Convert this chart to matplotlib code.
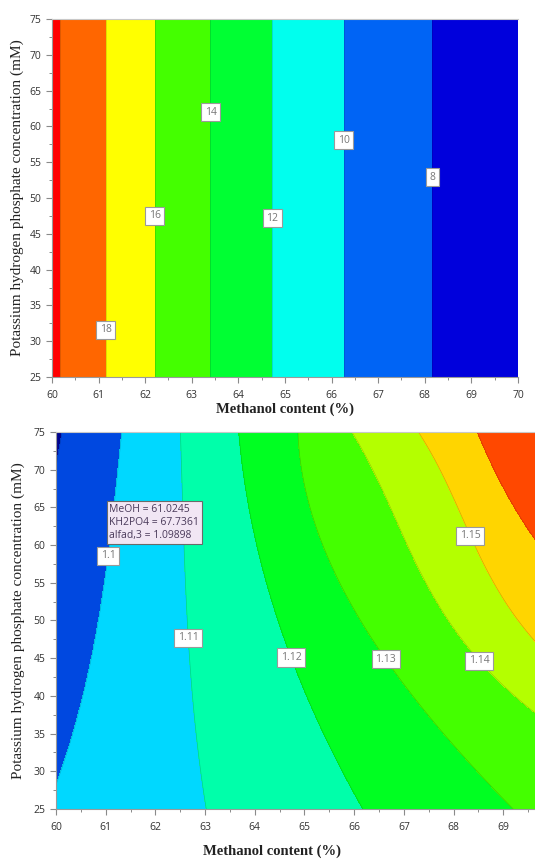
import numpy as np
import matplotlib
matplotlib.use("Agg")
import matplotlib.pyplot as plt
from matplotlib.colors import ListedColormap
from matplotlib.ticker import MultipleLocator

# --- data -------------------------------------------------------------------
# top panel: response depends on methanol only; x where each level line sits
top_x = [60.0, 60.17, 61.15, 62.2, 63.4, 64.73, 66.26, 68.16, 70.0]
top_val = [20.35, 20, 18, 16, 14, 12, 10, 8, 6.4]
top_levels = [6, 8, 10, 12, 14, 16, 18, 20, 22]
top_colors = ["#0000dc", "#0064f5", "#00ffee", "#00ff33",
              "#44ff00", "#ffff00", "#ff6600", "#ff0000"]
top_label_levels = [8, 10, 12, 14, 16, 18]
top_label_y = [52.9, 58.1, 47.2, 62.0, 47.5, 31.6]

# bottom panel: x position of each alpha level line at several KH2PO4 rows
kh_rows = [25, 35, 45, 55, 65, 75]
alpha_levels = [1.08, 1.09, 1.10, 1.11, 1.12, 1.13, 1.14, 1.15, 1.16, 1.17]
alpha_cross = [
    [57.0, 57.5, 58.0, 58.5, 59.0, 59.5],
    [58.8, 59.0, 59.3, 59.55, 59.85, 60.12],
    [59.8, 60.35, 60.72, 60.92, 61.21, 61.31],
    [63.02, 62.83, 62.68, 62.6, 62.56, 62.5],
    [66.18, 65.37, 64.75, 64.24, 63.87, 63.68],
    [69.2, 67.8, 66.62, 65.71, 65.11, 64.87],
    [73.0, 70.3, 68.35, 67.52, 66.72, 65.95],
    [75.5, 72.0, 69.95, 68.87, 68.03, 67.31],
    [78.0, 74.5, 72.0, 70.4, 69.17, 68.49],
    [81.0, 77.0, 74.5, 72.5, 70.8, 70.0],
]
alpha_colors = ["#00058f", "#0048e0", "#00d8ff", "#00ffaa", "#00ff22",
                "#44ff00", "#b4ff00", "#ffd500", "#ff4800"]
alpha_label_levels = [1.10, 1.11, 1.12, 1.13, 1.14, 1.15]
alpha_label_pos = [(61.0, 58.6), (62.66, 47.7), (64.7, 45.0),
                   (66.62, 44.8), (68.4, 44.0), (68.3, 61.1)]
tooltip = "MeOH = 61.0245\nKH2PO4 = 67.7361\nalfad,3 = 1.09898"

XLABEL = "Methanol content (%)"
YLABEL = "Potassium hydrogen phosphate concentration (mM)"

TICK_FONT = "Open Sans"
SERIF = "Liberation Serif"


def style_axes(ax, xlim):
    ax.set_xlim(*xlim)
    ax.set_ylim(25, 75)
    ax.xaxis.set_major_locator(MultipleLocator(1))
    ax.xaxis.set_minor_locator(MultipleLocator(0.5))
    ax.yaxis.set_major_locator(MultipleLocator(5))
    ax.yaxis.set_minor_locator(MultipleLocator(2.5))
    ax.tick_params(which="both", direction="out", color="#8a8a8a",
                   labelcolor="#333333", labelsize=7.5)
    ax.tick_params(which="major", length=4, width=0.8)
    ax.tick_params(which="minor", length=2.5, width=0.7)
    ax.tick_params(axis="x", pad=5)
    for lab in ax.get_xticklabels() + ax.get_yticklabels():
        lab.set_fontfamily(TICK_FONT)
    for s in ["left", "bottom", "top"]:
        ax.spines[s].set_color("#9a9a9a")
        ax.spines[s].set_linewidth(0.8)
    ax.spines["right"].set_visible(False)
    ax.spines["top"].set_color("#c8c8c8")
    ax.set_ylabel(YLABEL, family=SERIF, fontsize=11, color="#222222")
    ax.set_xlabel(XLABEL, family=SERIF, fontsize=10.5, fontweight="bold",
                  color="#222222")


def box_labels(texts):
    for t in texts:
        t.set_rotation(0)
        t.set_fontfamily(TICK_FONT)
        t.set_color("#777777")
        t.set_bbox(dict(boxstyle="square,pad=0.35", fc="white",
                        ec="#9a9a9a", lw=0.8))


fig = plt.figure(figsize=(5.35, 8.6), dpi=100)

# --- top panel ---------------------------------------------------------------
ax1 = fig.add_axes([0.0972, 0.5616, 0.871, 0.4163])
xg = np.linspace(60, 70, 500)
yg = np.linspace(25, 75, 60)
X, Y = np.meshgrid(xg, yg)
Z = np.interp(X, top_x, top_val)
ax1.contourf(X, Y, Z, levels=top_levels, cmap=ListedColormap(top_colors))
ax1.contour(X, Y, Z, levels=top_levels, colors="k", linewidths=0.5, alpha=0.18)
# separate (invisible) set holding only the labelled levels
lab1 = ax1.contour(X, Y, Z, levels=top_label_levels, linewidths=0)
pos1 = [(np.interp(v, top_val[::-1], top_x[::-1]), y)
        for v, y in zip(top_label_levels, top_label_y)]
t1 = ax1.clabel(lab1, manual=pos1, inline=False, fmt="%d", fontsize=7.5)
box_labels(t1)
style_axes(ax1, (60, 70))
ax1.yaxis.set_label_coords(-0.06, 0.5)
ax1.xaxis.set_label_coords(0.5, -0.07)

# --- bottom panel ------------------------------------------------------------
ax2 = fig.add_axes([0.1047, 0.0593, 0.8953, 0.4384])
xg2 = np.linspace(60, 69.64, 500)
yg2 = np.linspace(25, 75, 200)
X2, Y2 = np.meshgrid(xg2, yg2)
# smooth cubic through the read points of each level line
fits = [np.polyfit(kh_rows, c, 3) for c in alpha_cross]
Z2 = np.empty_like(X2)
for i, yv in enumerate(yg2):
    row_x = np.maximum.accumulate([np.polyval(f, yv) for f in fits])
    Z2[i] = np.interp(xg2, row_x, alpha_levels)
ax2.contourf(X2, Y2, Z2, levels=alpha_levels, cmap=ListedColormap(alpha_colors))
ax2.contour(X2, Y2, Z2, levels=alpha_levels, colors="k", linewidths=0.5,
            alpha=0.18)
lab2 = ax2.contour(X2, Y2, Z2, levels=alpha_label_levels, linewidths=0)
t2 = ax2.clabel(lab2, manual=alpha_label_pos, inline=False,
                fmt=lambda v: f"{v:g}", fontsize=7.5)
box_labels(t2)
ax2.text(61.07, 65.5, tooltip, fontsize=7.5, family=TICK_FONT, color="#4a3a5a",
         va="top", ha="left", linespacing=1.3, zorder=5,
         bbox=dict(boxstyle="square,pad=0.25", fc="#f1e6f4", ec="#6a6a6a",
                   lw=0.8))
style_axes(ax2, (60, 69.64))
ax2.yaxis.set_label_coords(-0.065, 0.5)
ax2.xaxis.set_label_coords(0.45, -0.095)

fig.savefig("out.png", dpi=100)
